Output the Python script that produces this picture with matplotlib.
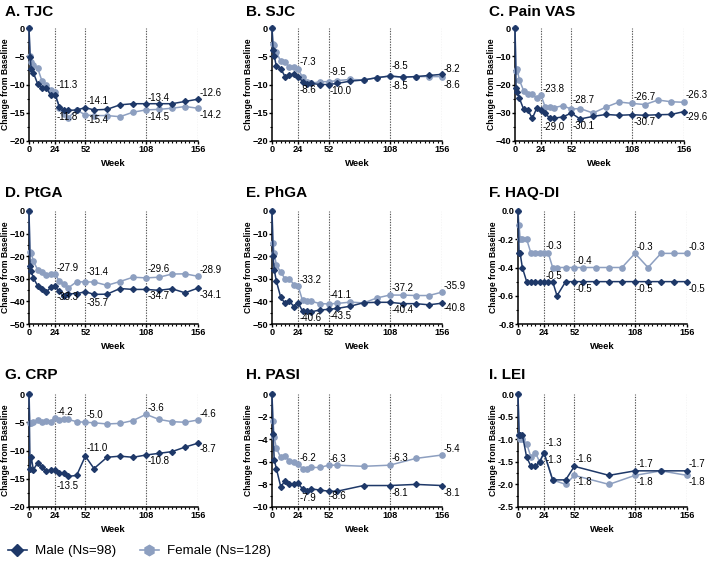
import matplotlib
matplotlib.use("Agg")
import matplotlib.pyplot as plt
from matplotlib.ticker import MultipleLocator, FormatStrFormatter
from matplotlib.lines import Line2D

plt.rcParams['font.family'] = ['Liberation Sans', 'DejaVu Sans']

# ---------------- data ----------------
weeks = [0, 1, 2, 4, 8, 12, 16, 20, 24, 28, 32, 36, 44, 52, 60, 72, 84, 96, 108, 120, 132, 144, 156]
weeks_pasi = [0, 1, 2, 4, 8, 12, 16, 20, 24, 28, 32, 36, 44, 52, 60, 84, 108, 132, 156]
weeks_lei = [0, 1, 2, 4, 8, 12, 16, 20, 24, 32, 44, 52, 84, 108, 132, 156]

tjc_male = [0, -5.1, -7.2, -7.9, -9.9, -10.6, -10.6, -11.9, -11.8, -13.9, -14.6, -14.6, -14.5, -14.1, -14.5, -14.4, -13.6, -13.4, -13.4, -13.4, -13.4, -13.0, -12.6]
tjc_female = [0, -4.9, -6.1, -6.5, -7.1, -9.4, -10.1, -10.9, -11.3, -14.2, -15.2, -15.9, -14.5, -15.4, -15.5, -15.5, -15.7, -14.9, -14.5, -14.4, -14.2, -13.9, -14.2]

sjc_male = [0, -3.9, -4.9, -6.8, -7.2, -8.6, -8.4, -8.1, -8.6, -9.5, -9.9, -9.8, -10.0, -10.0, -9.8, -9.4, -9.2, -8.8, -8.5, -8.7, -8.6, -8.4, -8.2]
sjc_female = [0, -2.8, -3.0, -4.3, -5.9, -6.1, -6.9, -6.9, -7.3, -8.7, -9.6, -9.8, -9.5, -9.5, -9.3, -9.1, -9.2, -8.8, -8.5, -8.7, -8.6, -8.6, -8.6]

pain_male = [0, -21.3, -22.5, -24.8, -28.8, -29.1, -32.0, -28.4, -29.0, -30.2, -31.9, -31.9, -31.5, -30.1, -32.2, -31.3, -30.6, -30.9, -30.7, -30.9, -30.7, -30.6, -29.6]
pain_female = [0, -15.2, -14.6, -18.4, -22.2, -23.2, -23.4, -24.9, -23.8, -28.1, -27.9, -28.2, -27.5, -28.7, -28.5, -30.1, -28.0, -26.2, -26.7, -27.1, -25.5, -26.1, -26.3]

ptga_male = [0, -24.4, -26.6, -29.6, -33.1, -34.3, -35.9, -33.8, -33.3, -35.6, -37.6, -36.6, -36.6, -35.7, -36.9, -36.8, -34.3, -34.7, -34.7, -35.1, -34.4, -36.2, -34.1]
ptga_female = [0, -18.2, -18.5, -22.2, -26.0, -27.1, -28.1, -27.8, -27.9, -31.0, -32.2, -34.1, -31.3, -31.4, -31.4, -32.9, -31.2, -29.3, -29.6, -29.3, -27.9, -27.8, -28.9]

phga_male = [0, -20.0, -25.9, -31.0, -38.2, -40.9, -39.7, -42.4, -40.6, -44.3, -44.3, -44.6, -43.8, -43.5, -43.1, -42.1, -40.6, -40.4, -40.4, -41.0, -41.0, -41.5, -40.8]
phga_female = [0, -14.1, -18.8, -23.8, -27.2, -29.9, -29.9, -32.6, -33.2, -39.6, -40.0, -39.9, -41.0, -41.1, -40.9, -40.3, -40.7, -38.5, -37.2, -37.2, -37.4, -37.4, -35.9]

haq_male = [0, -0.3, -0.3, -0.4, -0.5, -0.5, -0.5, -0.5, -0.5, -0.5, -0.5, -0.6, -0.5, -0.5, -0.5, -0.5, -0.5, -0.5, -0.5, -0.5, -0.5, -0.5, -0.5]
haq_female = [0, -0.1, -0.2, -0.2, -0.2, -0.3, -0.3, -0.3, -0.3, -0.3, -0.4, -0.4, -0.4, -0.4, -0.4, -0.4, -0.4, -0.4, -0.3, -0.4, -0.3, -0.3, -0.3]

crp_male = [0, -13.3, -11.1, -13.4, -12.2, -13.0, -13.6, -13.5, -13.5, -13.9, -14.0, -14.6, -14.4, -11.0, -13.2, -11.2, -11.0, -11.2, -10.8, -10.5, -10.2, -9.4, -8.7]
crp_female = [0, -5.2, -5.2, -5.0, -4.6, -5.0, -4.8, -4.9, -4.2, -4.6, -4.4, -4.5, -4.9, -5.0, -5.1, -5.3, -5.2, -4.7, -3.6, -4.5, -4.9, -5.0, -4.6]

pasi_male = [0, -3.5, -5.8, -6.6, -8.2, -7.7, -8.0, -8.0, -7.9, -8.4, -8.6, -8.4, -8.5, -8.6, -8.6, -8.1, -8.1, -8.0, -8.1]
pasi_female = [0, -2.4, -3.8, -4.8, -5.6, -5.5, -5.9, -6.0, -6.2, -6.6, -6.6, -6.5, -6.5, -6.3, -6.3, -6.4, -6.3, -5.7, -5.4]

lei_male = [0, -0.9, -0.9, -0.9, -1.4, -1.6, -1.6, -1.5, -1.3, -1.9, -1.9, -1.6, -1.8, -1.7, -1.7, -1.7]
lei_female = [0, -0.9, -1.0, -1.0, -1.1, -1.4, -1.3, -1.5, -1.3, -1.9, -2.0, -1.8, -2.0, -1.8, -1.7, -1.8]

titles = ["A. TJC", "B. SJC", "C. Pain VAS", "D. PtGA", "E. PhGA", "F. HAQ-DI", "G. CRP", "H. PASI", "I. LEI"]
label_weeks = [24, 52, 108, 156]
male_labels = [["-11.8", "-14.1", "-13.4", "-12.6"], ["-8.6", "-10.0", "-8.5", "-8.2"],
               ["-29.0", "-30.1", "-30.7", "-29.6"], ["-33.3", "-35.7", "-34.7", "-34.1"],
               ["-40.6", "-43.5", "-40.4", "-40.8"], ["-0.5", "-0.5", "-0.5", "-0.5"],
               ["-13.5", "-11.0", "-10.8", "-8.7"], ["-7.9", "-8.6", "-8.1", "-8.1"],
               ["-1.3", "-1.6", "-1.7", "-1.7"]]
female_labels = [["-11.3", "-15.4", "-14.5", "-14.2"], ["-7.3", "-9.5", "-8.5", "-8.6"],
                 ["-23.8", "-28.7", "-26.7", "-26.3"], ["-27.9", "-31.4", "-29.6", "-28.9"],
                 ["-33.2", "-41.1", "-37.2", "-35.9"], ["-0.3", "-0.4", "-0.3", "-0.3"],
                 ["-4.2", "-5.0", "-3.6", "-4.6"], ["-6.2", "-6.3", "-6.3", "-5.4"],
                 ["-1.3", "-1.8", "-1.8", "-1.8"]]
legend_labels = ["Male (Ns=98)", "Female (Ns=128)"]

# ---------------- layout / style ----------------
MALE = "#1e3868"
FEMALE = "#8d9fc0"
W, H = 708, 578

panels = [
    (weeks, tjc_male, tjc_female, (-20, 0), 5, 2.5, None),
    (weeks, sjc_male, sjc_female, (-20, 0), 5, 2.5, None),
    (weeks, pain_male, pain_female, (-40, 0), 10, 5, None),
    (weeks, ptga_male, ptga_female, (-50, 0), 10, 5, None),
    (weeks, phga_male, phga_female, (-50, 0), 10, 5, None),
    (weeks, haq_male, haq_female, (-0.8, 0), 0.2, 0.1, '%.1f'),
    (weeks, crp_male, crp_female, (-20, 0), 5, 2.5, None),
    (weeks_pasi, pasi_male, pasi_female, (-10, 0), 2, 1, None),
    (weeks_lei, lei_male, lei_female, (-2.5, 0), 0.5, 0.25, '%.1f'),
]
# label vertical offsets in pixels (positive = up)
male_dy = [[-22, 7, 6, 6], [-13, -6, -10, 5], [-17, -13, -7, -5],
           [-11, -11, -7, -7], [-15, -7, -8, -5], [6, -7, -7, -7],
           [-16, 8, -6, -6], [-15, -5, -7, -7], [-7, 7, 7, 7]]
female_dy = [[7, -5, -7, -7], [7, 10, 10, -8], [6, 9, 6, 7],
             [6, 10, 9, 6], [6, 9, 7, 6], [7, 7, 6, 6],
             [6, 7, 6, 6], [6, 6, 7, 6], [10, -7, -7, -7]]

rows = [(28, 141), (211, 324), (394, 507)]
cols = [[(29, 198), (272, 442), (515, 684)],
        [(29, 198), (272, 442), (518, 687)],
        [(29, 198), (272, 442), (518, 687)]]
title_x = [5, 246, 489]
title_y = [12, 193, 375]
ylab_x = [10, 253, 495.5, 10, 253, 497.5, 10, 253, 497.5]

fig = plt.figure(figsize=(W / 100, H / 100), dpi=100)

for i, (wk, m, f, ylim, major, minor, fmt) in enumerate(panels):
    r, c = divmod(i, 3)
    t, b = rows[r]
    l, rr = cols[r][c]
    ax = fig.add_axes([l / W, 1 - b / H, (rr - l) / W, (b - t) / H])
    for xv in label_weeks:
        ax.axvline(xv, color="#555555", lw=0.8, ls=(0, (1.2, 1.2)), zorder=1)
    ax.plot(wk, f, color=FEMALE, marker='o', ms=3.8, lw=1.1, clip_on=False, zorder=3)
    ax.plot(wk, m, color=MALE, marker='D', ms=3.0, lw=1.1, clip_on=False, zorder=4)
    ax.set_xlim(0, 156)
    ax.set_ylim(*ylim)
    ax.set_xticks([0, 24, 52, 108, 156])
    ax.xaxis.set_minor_locator(MultipleLocator(4))
    ax.yaxis.set_major_locator(MultipleLocator(major))
    ax.yaxis.set_minor_locator(MultipleLocator(minor))
    if fmt:
        ax.yaxis.set_major_formatter(FormatStrFormatter(fmt))
    for s in ['top', 'right']:
        ax.spines[s].set_visible(False)
    for s in ['left', 'bottom']:
        ax.spines[s].set_linewidth(1.1)
    ax.tick_params(which='major', length=2, width=1.0, pad=0.8, labelsize=6.6)
    ax.tick_params(which='minor', length=1.2, width=0.8)
    for lab in ax.get_xticklabels() + ax.get_yticklabels():
        lab.set_fontweight('bold')
    ax.set_xlabel("Week", fontsize=6.8, fontweight='bold', labelpad=4)
    ax.set_ylabel("Change from Baseline", fontsize=6.2, fontweight='bold', labelpad=1)
    ax.yaxis.set_label_coords((ylab_x[i] - l) / (rr - l), 0.5)
    # annotations
    for j, xv in enumerate(label_weeks):
        mv = m[wk.index(xv)]
        fv = f[wk.index(xv)]
        ax.annotate(male_labels[i][j], xy=(xv, mv), xytext=(1.0, male_dy[i][j] * 0.72),
                    textcoords='offset points', ha='left', va='center', fontsize=7,
                    annotation_clip=False, zorder=5)
        ax.annotate(female_labels[i][j], xy=(xv, fv), xytext=(1.0, female_dy[i][j] * 0.72),
                    textcoords='offset points', ha='left', va='center', fontsize=7,
                    annotation_clip=False, zorder=5)
    fig.text(title_x[c] / W, 1 - title_y[r] / H, titles[i], fontsize=11,
             fontweight='bold', ha='left', va='center')

handles = [Line2D([], [], color=MALE, marker='D', ms=6, lw=1.2),
           Line2D([], [], color=FEMALE, marker='h', ms=7.5, lw=1.2)]
fig.legend(handles, legend_labels, loc='center left', bbox_to_anchor=(0.0, 1 - 551 / H),
           ncol=2, frameon=False, fontsize=9.6, handlelength=1.4, handletextpad=0.6,
           columnspacing=1.8, borderaxespad=0.2)

fig.savefig("out.png", dpi=100)
